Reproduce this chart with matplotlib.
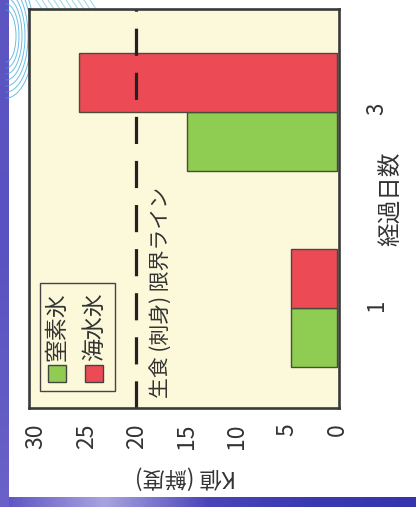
import matplotlib
matplotlib.use("Agg")
from matplotlib import pyplot as plt
from matplotlib.patches import Rectangle
import numpy as np

plt.rcParams['font.family'] = ['Noto Sans CJK JP', 'DejaVu Sans']

days = [1, 3]
day_labels = ["1", "3"]
nitrogen_ice = [4.6, 15.0]    # 窒素氷
seawater_ice = [4.6, 25.7]    # 海水氷
limit_value = 20              # 生食(刺身)限界ライン
k_ticks = [0, 5, 10, 15, 20, 25, 30]

green = "#8fcd52"
red = "#ec4a55"
cream = "#fcf9db"
frame = "#3a3a3a"

fig = plt.figure(figsize=(4.16, 5.07), dpi=100)
fig.patch.set_facecolor("white")

# background decoration (left / bottom strips, swirl)
bg = fig.add_axes([0, 0, 1, 1], zorder=0)
bg.set_xlim(0, 416)
bg.set_ylim(507, 0)
bg.axis("off")
grad = np.linspace(0, 1, 200).reshape(1, -1)
bg.imshow(grad, extent=(0, 416, 507, 497), cmap=matplotlib.colors.LinearSegmentedColormap.from_list(
    "strip", ["#5a50c0", "#a9a4e0", "#4a44b8", "#3a3ab0", "#3434ae"]), aspect="auto")
bg.imshow(grad.T, extent=(0, 9, 507, 0), cmap=matplotlib.colors.LinearSegmentedColormap.from_list(
    "side", ["#5d55c2", "#5a52c0", "#6a62c8"]), aspect="auto")
t = np.linspace(-np.pi / 2, np.pi / 2, 100)
for r in range(7):
    rx = 10 + r * 3
    ry = 26 + r * 6
    bg.plot(6 + rx * np.cos(t), 36 + ry * np.sin(t), color="#39a9d8", lw=0.7, alpha=0.75)
for r in range(10):
    bg.plot([36 + r * 6, 42 + r * 6], [0, 9], color="#5ab8d8", lw=0.7, alpha=0.6)

ax = fig.add_axes([29 / 416, 1 - 408 / 507, 310 / 416, 399 / 507], zorder=1)
ax.set_facecolor(cream)

h = 0.6
ypos = np.array(days, dtype=float)
ax.barh(ypos - h / 2, nitrogen_ice, height=h, color=green, edgecolor="#4b4b3a", linewidth=1.0)
ax.barh(ypos + h / 2, seawater_ice, height=h, color=red, edgecolor="#4b4b3a", linewidth=1.0)

ax.axvline(limit_value, color="#222222", lw=2.3, dashes=(8.5, 5.3))
ax.text(17.6, 1.16, "生食 (刺身) 限界ライン", rotation=90, ha="center", va="center",
        fontsize=15, color="#333333")

ax.set_xlim(30.7, -0.2)
ax.set_ylim(-0.02, 4.05)
ax.set_xticks(k_ticks)
ax.set_xticklabels([str(k) for k in k_ticks])
ax.tick_params(axis="x", length=0, pad=11, labelrotation=90, labelsize=16.5, colors="#333333")
ax.yaxis.tick_right()
ax.set_yticks(days)
ax.set_yticklabels(day_labels)
ax.tick_params(axis="y", length=0, pad=19, labelrotation=90, labelsize=16, colors="#333333")
for s in ax.spines.values():
    s.set_linewidth(1.9)
    s.set_color(frame)

# legend (rotated, drawn by hand)
tr = ax.transAxes
ax.add_patch(Rectangle((0.035, 0.043), 0.242, 0.27, transform=tr, fill=False,
                       edgecolor="#444444", lw=1.0, zorder=5))
for xc, col, lab in [(0.09, green, "窒素氷"), (0.21, red, "海水氷")]:
    ax.add_patch(Rectangle((xc - 0.028, 0.066), 0.056, 0.043, transform=tr,
                           facecolor=col, edgecolor="#444444", lw=1.0, zorder=5))
    ax.text(xc, 0.205, lab, transform=tr, rotation=90, ha="center", va="center",
            fontsize=16.5, color="#333333", zorder=5)

fig.text(392 / 416, 1 - 199 / 507, "経過日数", rotation=90, ha="center", va="center",
         fontsize=17, color="#333333")
fig.text(185 / 416, 1 - 477 / 507, "K値 (鮮度)", rotation=180, ha="center", va="center",
         fontsize=16, color="#333333")

fig.savefig("out.png", dpi=100)
